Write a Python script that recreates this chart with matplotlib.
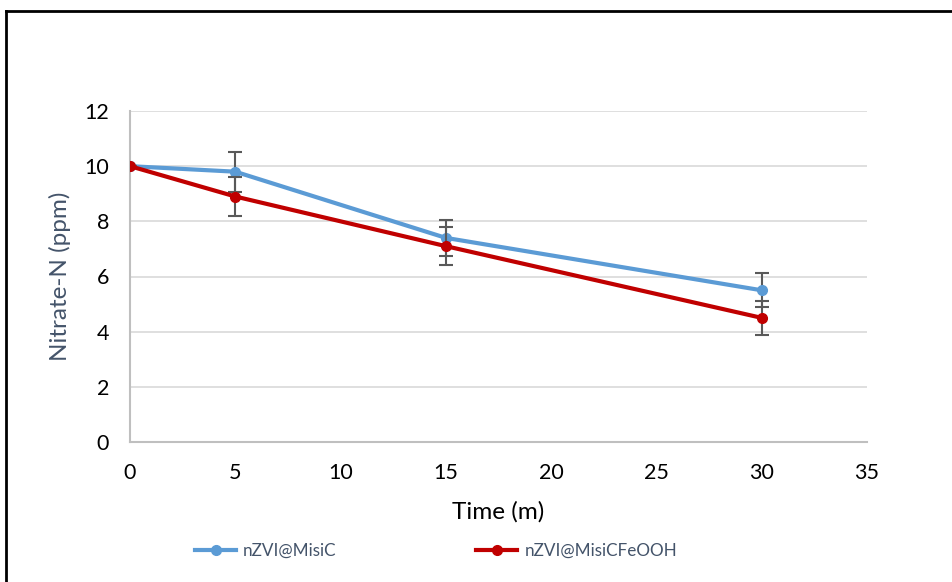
import numpy as np
import matplotlib
matplotlib.use("Agg")
import matplotlib.pyplot as plt

# -----------------------------
# Data
# -----------------------------
time_min = [0, 5, 15, 30]

misic_vals = [10.0, 9.8, 7.4, 5.5]
misic_err = [0.0, 0.72, 0.64, 0.62]

feooh_vals = [10.0, 8.9, 7.1, 4.5]
feooh_err = [0.0, 0.7, 0.7, 0.62]

series_labels = ["nZVI@MisiC", "nZVI@MisiCFeOOH"]

x_ticks = [0, 5, 10, 15, 20, 25, 30, 35]
y_ticks = [0, 2, 4, 6, 8, 10, 12]

# -----------------------------
# Styling
# -----------------------------
plt.rcParams["font.family"] = ["Lato", "DejaVu Sans"]

blue = "#5B9BD5"
red = "#C00000"
err_col = "#595959"
label_col = "#44546A"

fig = plt.figure(figsize=(9.52, 5.82), dpi=100)
ax = fig.add_axes([130 / 952, 1 - 442 / 582, 737 / 952, 331 / 582])

# outer chart frame (only top/left visible in the crop)
fig.add_artist(plt.Line2D([6 / 952, 6 / 952], [0, 1 - 11 / 582],
                          transform=fig.transFigure, color="black", lw=2))
fig.add_artist(plt.Line2D([6 / 952, 1], [1 - 11 / 582, 1 - 11 / 582],
                          transform=fig.transFigure, color="black", lw=2))

ax.errorbar(time_min, misic_vals, yerr=misic_err, color=blue, lw=3,
            marker="o", ms=7, ecolor=err_col, elinewidth=1.5, capsize=5,
            capthick=1.5, label=series_labels[0], zorder=3)
ax.errorbar(time_min, feooh_vals, yerr=feooh_err, color=red, lw=3,
            marker="o", ms=7, ecolor=err_col, elinewidth=1.5, capsize=5,
            capthick=1.5, label=series_labels[1], zorder=4)

ax.set_xlim(0, 35)
ax.set_ylim(0, 12)
ax.set_xticks(x_ticks)
ax.set_yticks(y_ticks)
ax.tick_params(length=0, labelsize=15.5, colors="black")
ax.tick_params(axis="x", pad=15)
ax.tick_params(axis="y", pad=15)
ax.yaxis.grid(True, color="#D9D9D9", lw=1.2)
ax.set_axisbelow(True)

for side in ["top", "right"]:
    ax.spines[side].set_visible(False)
for side in ["left", "bottom"]:
    ax.spines[side].set_color("#BFBFBF")
    ax.spines[side].set_linewidth(1.5)

ax.set_xlabel("Time (m)", fontsize=17.5, labelpad=13)
ax.set_ylabel("Nitrate-N (ppm)", fontsize=17.5, color=label_col, labelpad=10)

# legend without error bars
h1 = plt.Line2D([], [], color=blue, lw=3, marker="o", ms=7)
h2 = plt.Line2D([], [], color=red, lw=3, marker="o", ms=7)
fig.legend([h1, h2], series_labels, loc="center", bbox_to_anchor=(436 / 952, 1 - 551 / 582),
           ncol=2, frameon=False, fontsize=12.3, labelcolor=label_col,
           columnspacing=8.2, handlelength=2.4, handletextpad=0.4)

fig.savefig("out.png", dpi=100)
